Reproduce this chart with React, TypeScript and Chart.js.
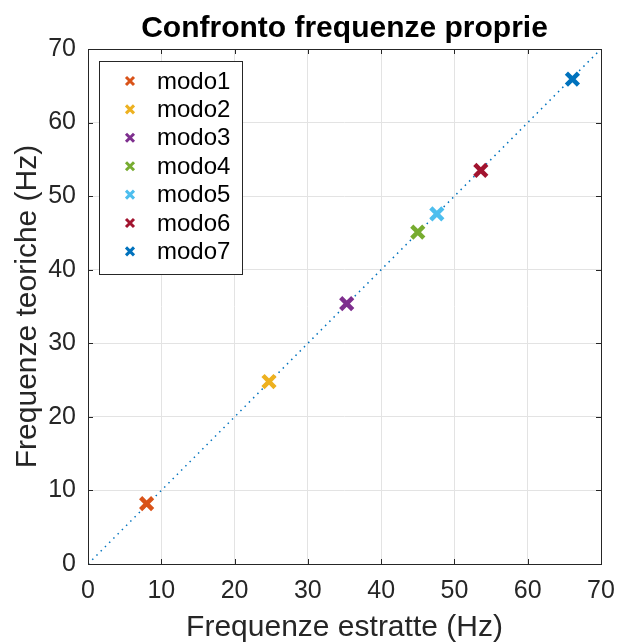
import React, { useEffect, useRef } from "react";
import { Chart, registerables } from "chart.js";

Chart.register(...registerables);

const modes = ["modo1", "modo2", "modo3", "modo4", "modo5", "modo6", "modo7"];
const freqEstratte = [8.0, 24.7, 35.3, 45.0, 47.6, 53.6, 66.1];
const freqTeoriche = [8.2, 24.8, 35.4, 45.1, 47.6, 53.5, 65.9];
const colors = ["#D95319", "#EDB120", "#7E2F8E", "#77AC30", "#4DBEEE", "#A2142F", "#0072BD"];
const axisMin = 0;
const axisMax = 70;
const tickStep = 10;

const FONT = "'Liberation Sans', Arial, Helvetica, sans-serif";

const decorPlugin = {
  id: "decor",
  afterDraw(chart: any) {
    const ctx = chart.ctx as CanvasRenderingContext2D;
    const a = chart.chartArea;
    ctx.save();
    ctx.strokeStyle = "#262626";
    ctx.lineWidth = 1;
    const xs = chart.scales.x;
    const ys = chart.scales.y;
    for (let v = axisMin; v <= axisMax; v += tickStep) {
      const px = Math.round(xs.getPixelForValue(v)) + 0.5;
      const py = Math.round(ys.getPixelForValue(v)) + 0.5;
      ctx.beginPath();
      ctx.moveTo(px, a.bottom); ctx.lineTo(px, a.bottom - 5);
      ctx.moveTo(px, a.top); ctx.lineTo(px, a.top + 5);
      ctx.moveTo(a.left, py); ctx.lineTo(a.left + 5, py);
      ctx.moveTo(a.right, py); ctx.lineTo(a.right - 5, py);
      ctx.stroke();
    }
    ctx.strokeRect(Math.round(a.left) + 0.5, Math.round(a.top) + 0.5, Math.round(a.right - a.left), Math.round(a.bottom - a.top));

    ctx.fillStyle = "#000";
    ctx.textAlign = "center";
    ctx.textBaseline = "alphabetic";
    ctx.font = `bold 30px ${FONT}`;
    ctx.fillText("Confronto frequenze proprie", (a.left + a.right) / 2, 37);
    ctx.fillStyle = "#262626";
    ctx.font = `30px ${FONT}`;
    ctx.fillText("Frequenze estratte (Hz)", (a.left + a.right) / 2, 636);
    ctx.save();
    ctx.translate(36, (a.top + a.bottom) / 2);
    ctx.rotate(-Math.PI / 2);
    ctx.fillText("Frequenze teoriche (Hz)", 0, 0);
    ctx.restore();

    const lx = 99.5, ly = 61.5, lw = 143, lh = 213;
    ctx.fillStyle = "#fff";
    ctx.fillRect(lx, ly, lw, lh);
    ctx.strokeStyle = "#262626";
    ctx.lineWidth = 1;
    ctx.strokeRect(lx, ly, lw, lh);
    ctx.font = `24px ${FONT}`;
    ctx.textAlign = "left";
    ctx.textBaseline = "middle";
    modes.forEach((m, i) => {
      const cy = 81 + i * 28.4;
      const cx = 130;
      ctx.strokeStyle = colors[i];
      ctx.lineWidth = 3;
      const r = 4;
      ctx.beginPath();
      ctx.moveTo(cx - r, cy - r); ctx.lineTo(cx + r, cy + r);
      ctx.moveTo(cx - r, cy + r); ctx.lineTo(cx + r, cy - r);
      ctx.stroke();
      ctx.fillStyle = "#000";
      ctx.fillText(m, 157, cy + 1);
    });
    ctx.restore();
  },
};

export default function App() {
  const ref = useRef<HTMLCanvasElement>(null);
  useEffect(() => {
    if (!ref.current) return;
    const datasets: any[] = [
      {
        label: "diag",
        order: 1,
        data: [
          { x: axisMin, y: axisMin },
          { x: axisMax, y: axisMax },
        ],
        showLine: true,
        borderColor: "#0072BD",
        borderWidth: 1.5,
        borderDash: [1.5, 4.5],
        pointRadius: 0,
        fill: false,
      },
      ...modes.map((m, i) => ({
        label: m,
        order: 0,
        data: [{ x: freqEstratte[i], y: freqTeoriche[i] }],
        pointStyle: "crossRot",
        pointRadius: 8.5,
        borderColor: colors[i],
        backgroundColor: colors[i],
        pointBorderWidth: 4.5,
        borderWidth: 4.5,
        showLine: false,
      })),
    ];
    const chart = new Chart(ref.current, {
      type: "scatter",
      data: { datasets },
      options: {
        responsive: false,
        animation: false,
        layout: { padding: { top: 49, right: 19, left: 0, bottom: 0 } },
        plugins: { legend: { display: false }, tooltip: { enabled: false }, title: { display: false } },
        scales: {
          x: {
            type: "linear",
            min: axisMin,
            max: axisMax,
            afterFit: (s: any) => { s.height = 78; s.paddingLeft = 0; s.paddingRight = 0; },
            ticks: { stepSize: tickStep, color: "#262626", font: { family: FONT, size: 25 }, padding: 12, maxRotation: 0 },
            grid: { color: "#e3e3e3", tickLength: 0, drawTicks: false },
            border: { display: false },
          },
          y: {
            type: "linear",
            min: axisMin,
            max: axisMax,
            afterFit: (s: any) => { s.width = 88; s.paddingTop = 0; s.paddingBottom = 0; },
            ticks: { stepSize: tickStep, color: "#262626", font: { family: FONT, size: 25 }, padding: 12 },
            grid: { color: "#e3e3e3", tickLength: 0, drawTicks: false },
            border: { display: false },
          },
        },
      },
      plugins: [decorPlugin],
    } as any);
    return () => chart.destroy();
  }, []);
  return (
    <div style={{ position: "absolute", left: 0, top: 0, width: 620, height: 642, background: "#fff" }}>
      <canvas ref={ref} width={620} height={642} />
    </div>
  );
}
